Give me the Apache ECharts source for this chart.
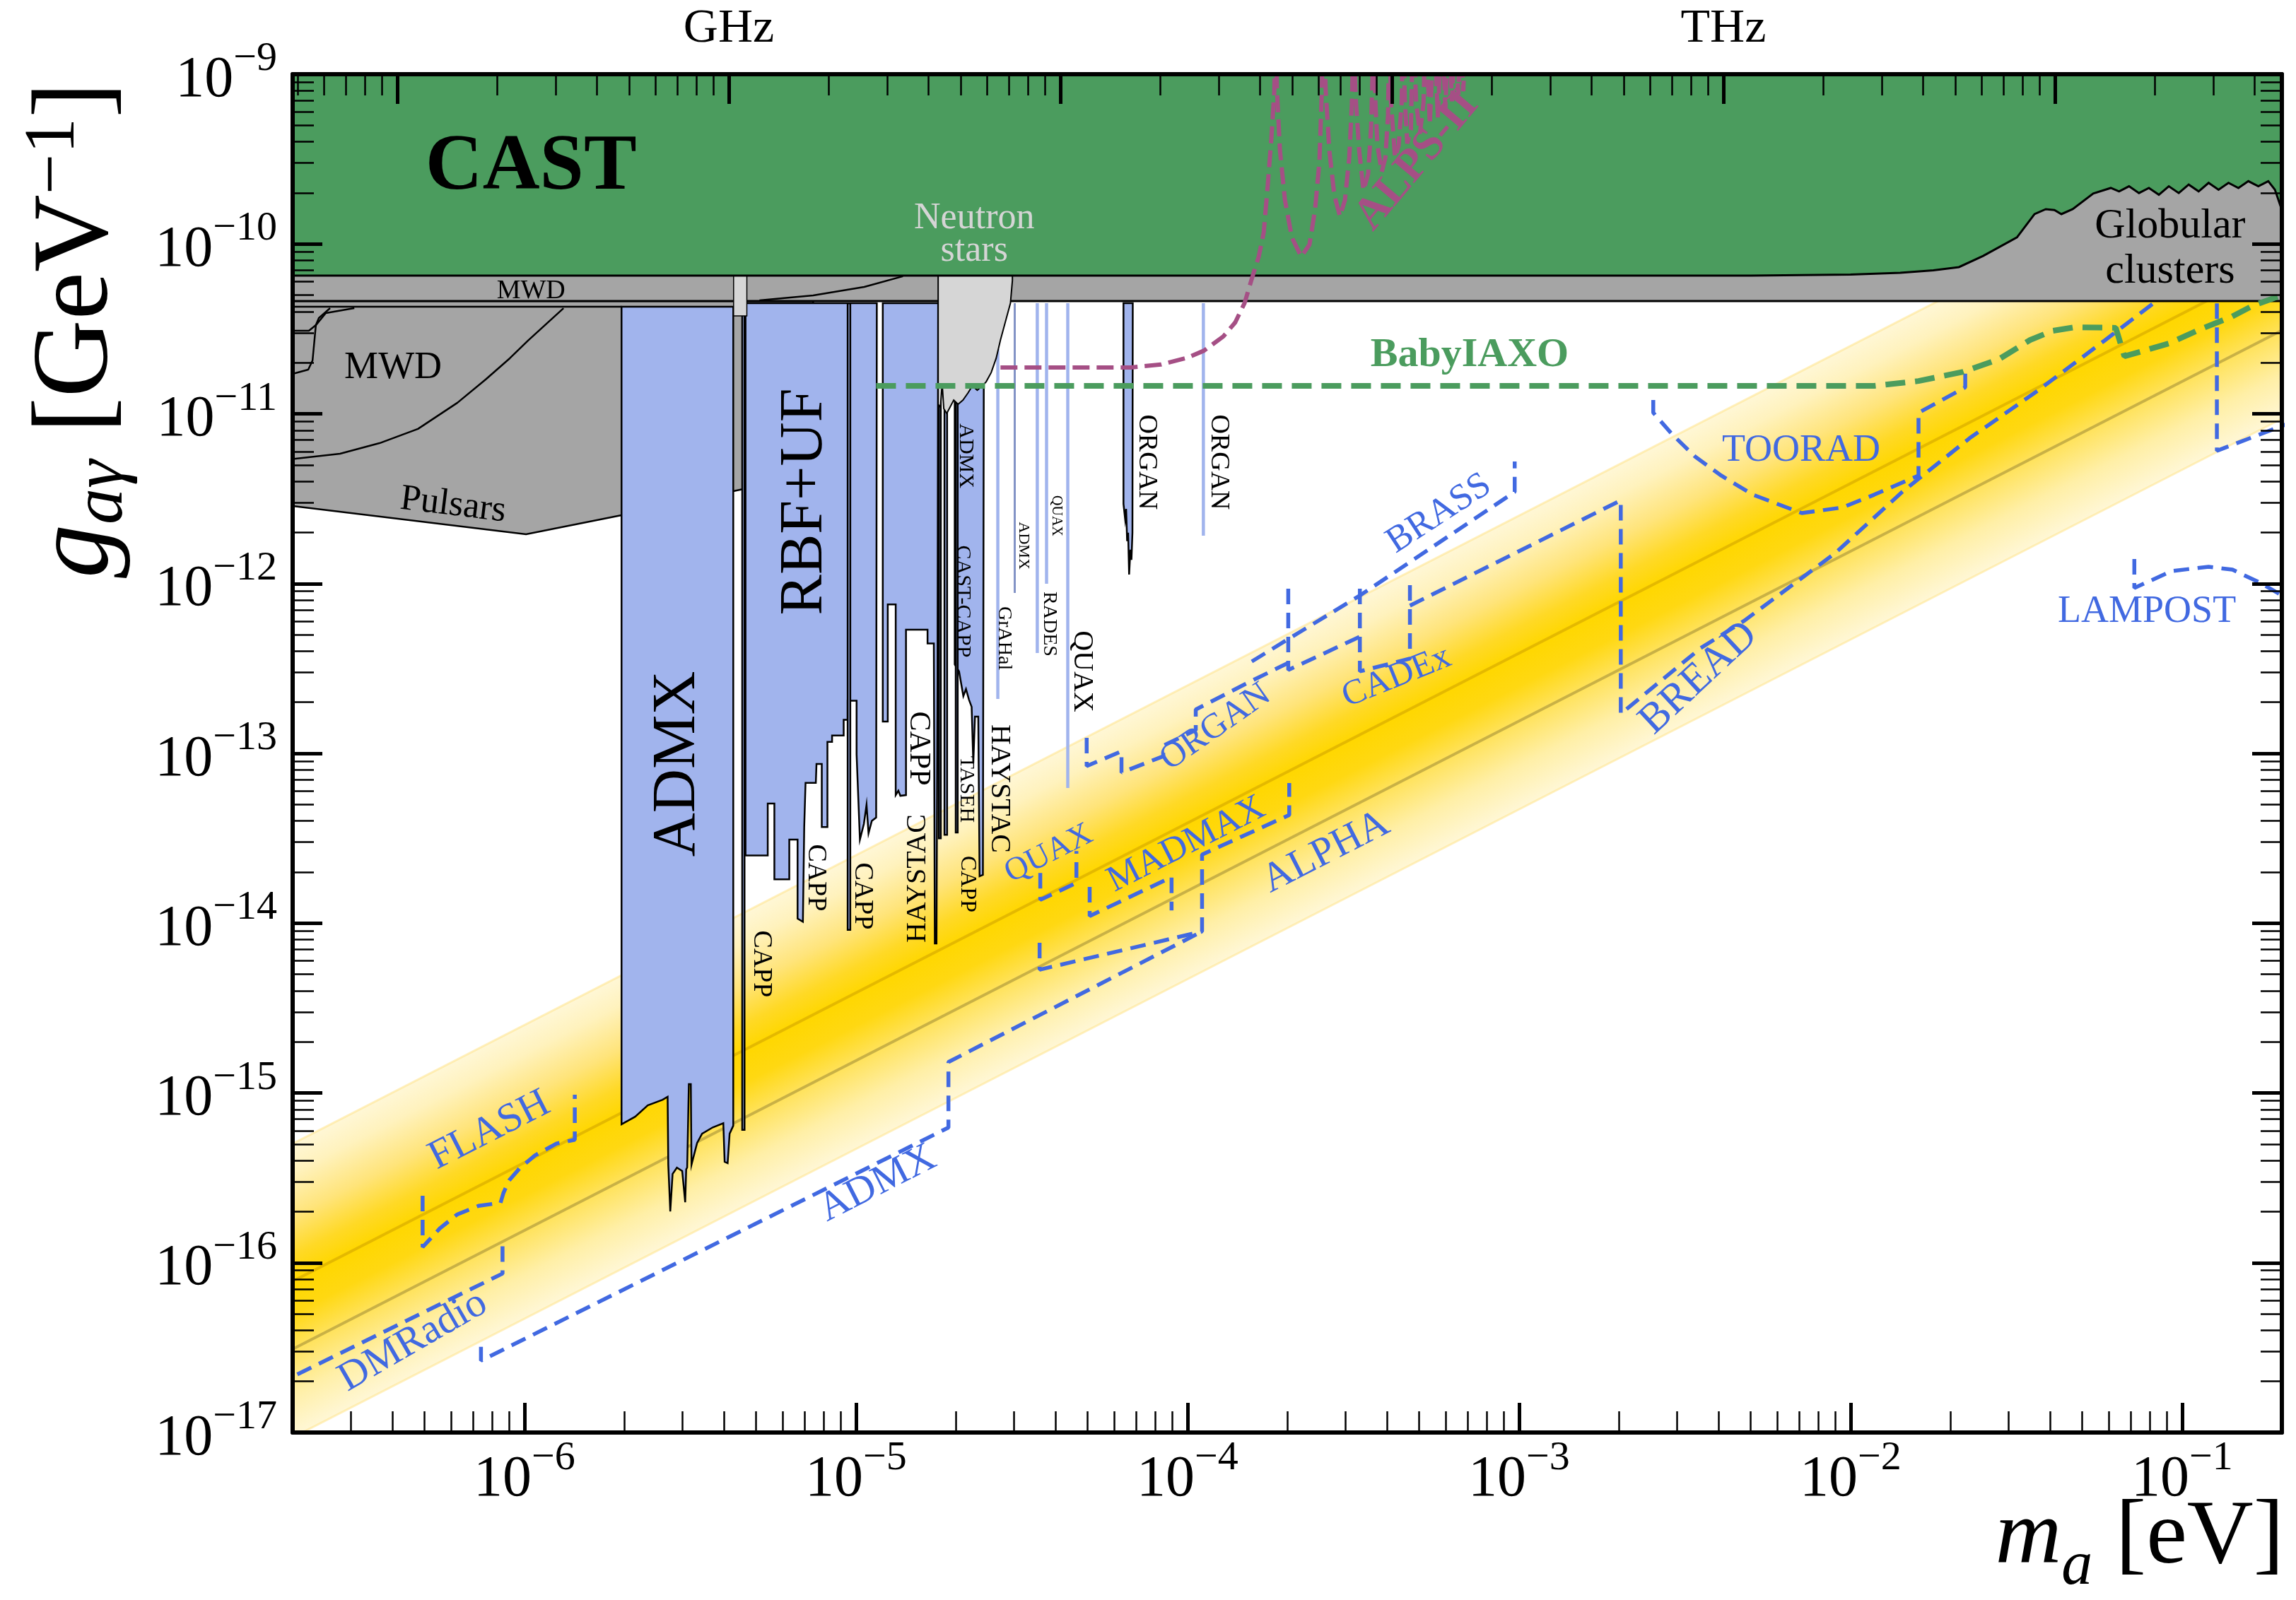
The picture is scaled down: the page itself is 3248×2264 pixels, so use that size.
<!DOCTYPE html>
<html>
<head>
<meta charset="utf-8">
<script src="https://cdn.jsdelivr.net/npm/echarts@6/dist/echarts.min.js"></script>
<style>
  html, body { margin: 0; padding: 0; background: #fff; }
  #chart { width: 3248px; height: 2264px; }
</style>
</head>
<body>
<div id="chart"></div>
<script>
// every value below is log10: m_a in eV, g_ag in GeV^-1
const xRange = [-6.699, -0.699]
const yRange = [-17, -9]
const xTickExps = [-6, -5, -4, -3, -2, -1]
const yTickExps = [-17, -16, -15, -14, -13, -12, -11, -10, -9]
const freqTicks = [{ hz: 1e9, text: 'GHz' }, { hz: 1e12, text: 'THz' }]
const hPlanck = 4.135667e-15 // eV s

// QCD axion band, KSVZ and DFSZ lines
const bandUpper = [[-6.699, -15.299], [-0.699, -9.299]]
const bandLower = [[-6.699, -17.029], [-0.699, -11.029]]
const ksvzLine = [[-6.699, -16.109], [-0.699, -10.109]]
const dfszLine = [[-6.699, -16.509], [-0.699, -10.509]]

// astrophysics / helioscope
const cast = [[-6.699, -10.186], [-2.3, -10.186], [-2.0, -10.18], [-1.85, -10.17], [-1.75, -10.155], [-1.673, -10.136],
  [-1.6, -10.07], [-1.498, -9.961], [-1.445, -9.824], [-1.411, -9.795], [-1.385, -9.8], [-1.364, -9.824], [-1.33, -9.795],
  [-1.268, -9.703], [-1.215, -9.67], [-1.19, -9.69], [-1.16, -9.66], [-1.13, -9.7], [-1.1, -9.67], [-1.07, -9.71],
  [-1.04, -9.66], [-1.01, -9.7], [-0.98, -9.65], [-0.95, -9.69], [-0.92, -9.64], [-0.89, -9.68], [-0.86, -9.64],
  [-0.83, -9.67], [-0.8, -9.63], [-0.77, -9.66], [-0.74, -9.63], [-0.72, -9.68], [-0.699, -9.8], [-0.699, -9], [-6.699, -9]]
const globular = [[-6.699, -10.336], [-0.699, -10.336], [-0.699, -9], [-6.699, -9]]
const pulsarsMwd = [[-6.699, -10.336], [-5.129, -10.336], [-5.129, -11.36], [-5.34, -11.443], [-5.707, -11.597],
  [-5.995, -11.71], [-6.699, -11.543]]
const mwdTop = [[-6.699, -10.369], [-5.707, -10.369]]
const mwdCurve = [[-5.882, -10.378], [-5.989, -10.569], [-6.044, -10.673], [-6.117, -10.798], [-6.202, -10.935],
  [-6.321, -11.089], [-6.437, -11.173], [-6.556, -11.235], [-6.699, -11.266]]
const mwdA = [[-6.513, -10.378], [-6.599, -10.407], [-6.629, -10.478], [-6.65, -10.511], [-6.699, -10.511]]
const mwdB = [[-6.586, -10.378], [-6.62, -10.436], [-6.629, -10.478], [-6.639, -10.686], [-6.652, -10.74], [-6.699, -10.765]]
const mwdUpper = [[-5.291, -10.332], [-5.129, -10.303], [-4.975, -10.253], [-4.858, -10.19]]
const neutronStars = [[-4.752, -10.186], [-4.752, -10.944], [-4.745, -10.96], [-4.74, -10.82], [-4.735, -10.97],
  [-4.726, -10.998], [-4.705, -10.919], [-4.692, -10.944], [-4.677, -10.919], [-4.662, -10.877], [-4.649, -10.836],
  [-4.634, -10.861], [-4.619, -10.836], [-4.607, -10.811], [-4.592, -10.757], [-4.577, -10.673], [-4.564, -10.565],
  [-4.549, -10.457], [-4.534, -10.349], [-4.528, -10.215], [-4.528, -10.186]]
const neutronSmall = [[-5.369, -10.182], [-5.369, -10.424], [-5.329, -10.424], [-5.329, -10.182]]

// haloscopes
const admx = [[-5.707, -10.369], [-5.707, -15.185], [-5.666, -15.14], [-5.628, -15.073], [-5.583, -15.04],
  [-5.568, -15.023], [-5.566, -15.423], [-5.56, -15.698], [-5.553, -15.477], [-5.54, -15.44], [-5.524, -15.46],
  [-5.515, -15.644], [-5.512, -15.45], [-5.509, -15.439], [-5.504, -14.948], [-5.498, -14.948], [-5.496, -15.423],
  [-5.479, -15.294], [-5.464, -15.24], [-5.432, -15.203], [-5.4, -15.178], [-5.396, -15.406], [-5.387, -15.414],
  [-5.381, -15.24], [-5.37, -15.193], [-5.37, -10.369]]
const rbfUf = [[-5.333, -10.349], [-5.333, -13.601], [-5.266, -13.601], [-5.266, -13.296], [-5.246, -13.296],
  [-5.246, -13.742], [-5.201, -13.742], [-5.201, -13.508], [-5.176, -13.508], [-5.176, -13.973], [-5.16, -13.992],
  [-5.156, -13.434], [-5.152, -13.174], [-5.121, -13.174], [-5.119, -13.062], [-5.103, -13.062], [-5.103, -13.434],
  [-5.086, -13.434], [-5.086, -12.932], [-5.072, -12.932], [-5.072, -12.895], [-5.037, -12.895], [-5.037, -12.802],
  [-5.025, -12.802], [-5.025, -12.69], [-4.998, -12.69], [-4.998, -13.006], [-4.988, -13.508], [-4.976, -13.415],
  [-4.968, -13.303], [-4.962, -13.471], [-4.952, -13.397], [-4.939, -13.378], [-4.937, -10.349]]
const cappHaystac = [[-4.919, -10.349], [-4.919, -12.813], [-4.904, -12.813], [-4.904, -12.123], [-4.88, -12.123],
  [-4.88, -13.246], [-4.872, -13.22], [-4.866, -13.25], [-4.849, -13.246], [-4.849, -12.272], [-4.784, -12.272],
  [-4.784, -12.353], [-4.765, -12.353], [-4.762, -14.12], [-4.757, -14.12], [-4.754, -12.596], [-4.752, -10.349]]
const admxCastCapp = [[-4.702, -10.4], [-4.702, -12.476], [-4.689, -12.517], [-4.676, -12.663], [-4.668, -12.621],
  [-4.659, -12.684], [-4.651, -12.726], [-4.646, -13.059], [-4.641, -12.784], [-4.631, -12.784], [-4.627, -13.724],
  [-4.617, -13.716], [-4.614, -10.4]]
const organ = [[-4.193, -10.349], [-4.193, -11.53], [-4.188, -11.62], [-4.185, -11.56], [-4.182, -11.75],
  [-4.179, -11.7], [-4.176, -11.947], [-4.172, -11.8], [-4.169, -11.86], [-4.166, -11.7], [-4.165, -10.349]]
// narrow scans: [m left, m right, g bottom]
const cappLines = [[-5.343, -5.336, -15.218], [-5.025, -5.017, -14.04], [-4.75, -4.744, -13.501],
  [-4.733, -4.725, -13.48], [-4.699, -4.693, -13.466]]
// single-mass results: [m, g top, g bottom]
const thinLines = [[-4.572, -10.619, -12.679], [-4.453, -10.349, -12.409], [-4.425, -10.349, -12.001],
  [-4.361, -10.349, -13.204], [-3.952, -10.349, -11.718]]
const admxThin = [[-4.521, -10.349, -12.055]]

// projections
const alps = [[-4.564, -10.727], [-4.171, -10.727], [-4.08, -10.71], [-3.999, -10.669], [-3.95, -10.628],
  [-3.892, -10.545], [-3.856, -10.462], [-3.828, -10.349], [-3.807, -10.212], [-3.785, -10.074], [-3.77, -9.933],
  [-3.758, -9.658], [-3.747, -9.379], [-3.738, -9.1], [-3.735, -8.7],
  [-3.733, -8.7], [-3.73, -9.1], [-3.721, -9.45], [-3.706, -9.741], [-3.685, -9.962], [-3.657, -10.074],
  [-3.632, -10.004], [-3.615, -9.795], [-3.602, -9.516], [-3.596, -9.17], [-3.589, -8.7],
  [-3.586, -8.7], [-3.583, -9.1], [-3.572, -9.45], [-3.557, -9.713], [-3.54, -9.837], [-3.525, -9.741],
  [-3.512, -9.491], [-3.504, -9.17], [-3.499, -8.7],
  [-3.497, -8.7], [-3.493, -9.129], [-3.482, -9.45], [-3.469, -9.684], [-3.455, -9.587], [-3.446, -9.308], [-3.438, -8.7],
  [-3.436, -8.7], [-3.433, -9.17], [-3.427, -9.42], [-3.414, -9.575], [-3.403, -9.491], [-3.395, -9.241], [-3.391, -8.7],
  [-3.389, -8.7], [-3.386, -9.17], [-3.374, -9.491], [-3.363, -9.42], [-3.354, -9.17], [-3.35, -8.7],
  [-3.349, -8.7], [-3.344, -9.17], [-3.337, -9.408], [-3.326, -9.325], [-3.32, -8.7],
  [-3.318, -8.7], [-3.31, -9.17], [-3.299, -9.35], [-3.288, -9.17], [-3.282, -8.7],
  [-3.28, -8.7], [-3.269, -9.296], [-3.256, -8.7], [-3.254, -8.7], [-3.245, -9.254], [-3.233, -8.7],
  [-3.231, -8.7], [-3.222, -9.2], [-3.212, -8.7], [-3.21, -8.7], [-3.202, -9.16], [-3.193, -8.7],
  [-3.19, -8.7], [-3.183, -9.12], [-3.176, -8.7], [-3.174, -8.7], [-3.168, -9.1], [-3.16, -8.7]]
const babyIaxo = [[-4.939, -10.836], [-1.929, -10.836], [-1.795, -10.807], [-1.66, -10.753], [-1.552, -10.678],
  [-1.458, -10.565], [-1.39, -10.511], [-1.323, -10.49], [-1.2, -10.494], [-1.174, -10.661], [-1.121, -10.632],
  [-1.04, -10.586], [-0.946, -10.503], [-0.85, -10.428], [-0.784, -10.361], [-0.675, -10.286]]
const flash = [[-6.307, -15.606], [-6.307, -15.908], [-6.255, -15.798], [-6.203, -15.716], [-6.138, -15.665],
  [-6.072, -15.647], [-6.063, -15.588], [-6.046, -15.515], [-6.013, -15.441], [-5.968, -15.368], [-5.903, -15.298],
  [-5.848, -15.276], [-5.848, -15.01]]
const dmRadio = [[-6.75, -16.72], [-6.066, -16.064], [-6.066, -15.89]]
const admxFuture = [[-6.131, -16.495], [-6.131, -16.577], [-4.721, -15.204], [-4.721, -14.818], [-3.956, -14.049]]
const quaxFuture = [[-4.444, -13.704], [-4.444, -13.863], [-4.335, -13.763], [-4.335, -13.575]]
const madmax = [[-4.295, -13.787], [-4.295, -13.958], [-4.048, -13.729], [-4.048, -13.925]]
const alpha = [[-4.446, -14.116], [-4.446, -14.274], [-3.956, -14.049], [-3.956, -13.596], [-3.693, -13.363], [-3.693, -13.175]]
const organFuture = [[-4.304, -12.908], [-4.304, -13.075], [-4.199, -12.988], [-4.199, -13.113], [-4.073, -13.017],
  [-4.073, -12.955], [-3.975, -12.863], [-3.975, -12.742], [-3.826, -12.592], [-3.696, -12.467]]
const organLink = [[-3.696, -12.03], [-3.696, -12.509], [-3.48, -12.313]]
const brass = [[-3.806, -12.459], [-3.691, -12.321], [-3.478, -12.068], [-3.013, -11.46], [-3.013, -11.281]]
const cadex = [[-3.48, -12.03], [-3.48, -12.517], [-3.329, -12.442], [-3.329, -11.967]]
const bread = [[-3.329, -12.13], [-2.693, -11.51], [-2.693, -12.767], [-2.452, -12.38], [-2.32, -12.218],
  [-2.185, -12.022], [-2.047, -11.822], [-1.844, -11.46], [-1.641, -11.144], [-1.436, -10.865], [-1.234, -10.569],
  [-1.083, -10.344]]
const toorad = [[-2.595, -10.919], [-2.595, -10.994], [-2.537, -11.123], [-2.469, -11.252], [-2.39, -11.364],
  [-2.294, -11.477], [-2.147, -11.585], [-2.025, -11.552], [-1.929, -11.477], [-1.795, -11.364], [-1.795, -10.994],
  [-1.654, -10.844], [-1.654, -10.753]]
const lampost = [[-1.144, -11.855], [-1.144, -12.026], [-1.031, -11.926], [-0.92, -11.901], [-0.848, -11.918],
  [-0.767, -11.993], [-0.69, -12.08]]
const rightBracket = [[-0.895, -10.35], [-0.895, -11.218], [-0.67, -11.05]]

// labels: text, m, g
const notes = [
  { t: 'CAST', m: -5.98, g: -9.554, s: 112, bold: true },
  { t: 'Neutron\nstars', m: -4.643, g: -9.945, s: 52, c: '#d5d5d5', lh: 46 },
  { t: 'MWD', m: -5.98, g: -10.278, s: 38 },
  { t: 'MWD', m: -6.396, g: -10.732, s: 54 },
  { t: 'Pulsars', m: -6.215, g: -11.539, s: 52, rot: -7 },
  { t: 'Globular\nclusters', m: -1.036, g: -10.028, s: 60, lh: 64 },
  { t: 'ADMX', m: -5.536, g: -13.062, s: 86, rot: 90 },
  { t: 'RBF+UF', m: -5.152, g: -11.518, s: 86, rot: 90 },
  { t: 'CAPP', m: -5.285, g: -14.24, s: 38, rot: -90 },
  { t: 'CAPP', m: -5.121, g: -13.733, s: 38, rot: -90 },
  { t: 'CAPP', m: -4.98, g: -13.841, s: 38, rot: -90 },
  { t: 'CAPP', m: -4.813, g: -12.971, s: 42, rot: -90 },
  { t: 'HAYSTAC', m: -4.813, g: -13.737, s: 40, rot: 90 },
  { t: 'TASEH', m: -4.668, g: -13.212, s: 30, rot: -90 },
  { t: 'CAPP', m: -4.664, g: -13.77, s: 32, rot: -90 },
  { t: 'ADMX', m: -4.67, g: -11.248, s: 30, rot: -90 },
  { t: 'CAST-CAPP', m: -4.677, g: -12.105, s: 30, rot: -90 },
  { t: 'HAYSTAC', m: -4.567, g: -13.208, s: 40, rot: -90 },
  { t: 'GrAHal', m: -4.553, g: -12.322, s: 28, rot: -90 },
  { t: 'ADMX', m: -4.495, g: -11.777, s: 22, rot: -90 },
  { t: 'QUAX', m: -4.395, g: -11.601, s: 20, rot: -90 },
  { t: 'RADES', m: -4.417, g: -12.238, s: 28, rot: -90 },
  { t: 'QUAX', m: -4.318, g: -12.517, s: 40, rot: -90 },
  { t: 'ORGAN', m: -4.124, g: -11.285, s: 38, rot: -90 },
  { t: 'ORGAN', m: -3.906, g: -11.285, s: 38, rot: -90 },
  { t: 'ALPS-II', m: -3.307, g: -9.512, s: 64, rot: 50, c: '#a54f85', bold: true },
  { t: 'BabyIAXO', m: -3.149, g: -10.657, s: 58, bold: true, c: '#4b9c5e' },
  { t: 'FLASH', m: -6.105, g: -15.222, s: 58, rot: 27, c: '#4169e1' },
  { t: 'DMRadio', m: -6.336, g: -16.463, s: 58, rot: 30, c: '#4169e1' },
  { t: 'ADMX', m: -4.934, g: -15.535, s: 58, rot: 27, c: '#4169e1' },
  { t: 'QUAX', m: -4.418, g: -13.591, s: 46, rot: 27, c: '#4169e1' },
  { t: 'MADMAX', m: -4.003, g: -13.537, s: 52, rot: 27, c: '#4169e1' },
  { t: 'ALPHA', m: -3.582, g: -13.583, s: 58, rot: 27, c: '#4169e1' },
  { t: 'ORGAN', m: -3.915, g: -12.846, s: 50, rot: 35, c: '#4169e1' },
  { t: 'BRASS', m: -3.241, g: -11.589, s: 52, rot: 33, c: '#4169e1' },
  { t: 'CADEx', m: -3.369, g: -12.551, s: 50, rot: 22, c: '#4169e1' },
  { t: 'BREAD', m: -2.458, g: -12.558, s: 60, rot: 43, c: '#4169e1' },
  { t: 'TOORAD', m: -2.149, g: -11.219, s: 54, c: '#4169e1' },
  { t: 'LAMPOST', m: -1.106, g: -12.168, s: 54, c: '#4169e1' }
]

const serif = "'Liberation Serif', 'DejaVu Serif', serif"
const green = '#4b9c5e'
const grayFill = '#a5a5a5'
const haloFill = '#a1b4ed'
const futureBlue = '#4169e1'
const futureDash = [22, 12]

function poly (pts, fill, stroke, lw, z) {
  return {
    type: 'custom', z, silent: true, clip: true,
    data: pts,
    renderItem (params, api) {
      if (params.dataIndex !== 0) return null
      return {
        type: 'polygon',
        shape: { points: pts.map(p => api.coord(p)) },
        style: { fill, stroke: stroke || null, lineWidth: lw || 0 }
      }
    }
  }
}

function curve (pts, color, width, dash, z) {
  return {
    type: 'line', data: pts, z, silent: true, symbol: 'none', clip: true,
    lineStyle: { color, width, type: dash || 'solid', cap: 'butt' }
  }
}

function vlines (list, color, width, z) {
  return {
    type: 'custom', z, silent: true, clip: true,
    data: list.map(v => [v[0], v[1]]),
    renderItem (params, api) {
      const v = list[params.dataIndex]
      const a = api.coord([v[0], v[1]])
      const b = api.coord([v[0], v[2]])
      return { type: 'line', shape: { x1: a[0], y1: a[1], x2: b[0], y2: b[1] }, style: { stroke: color, lineWidth: width } }
    }
  }
}

// minor log ticks between decades, shifted for the frequency axis
function minorTicks (lo, hi, shift) {
  const out = []
  for (let e = Math.floor(lo - shift) - 1; e <= Math.ceil(hi - shift); e++) {
    for (let k = 2; k <= 9; k++) {
      const v = e + shift + Math.log10(k)
      if (v > lo && v < hi) out.push(v)
    }
  }
  return out
}

const hShift = Math.log10(hPlanck)
const freqMajor = [7, 8, 9, 10, 11, 12, 13, 14].map(e => e + hShift).filter(v => v > xRange[0] && v < xRange[1])
const freqLabelVals = freqTicks.map(f => Math.log10(hPlanck * f.hz))

const powRich = {
  b: { fontSize: 82, lineHeight: 100, fontFamily: serif, color: '#000', verticalAlign: 'bottom' },
  s: { fontSize: 58, lineHeight: 58, fontFamily: serif, color: '#000', verticalAlign: 'top' }
}
const powLabel = v => '{b|10}{s|\u2212' + Math.abs(Math.round(v)) + '}'

const majorTick = { inside: true, length: 42, lineStyle: { color: '#000', width: 5 } }
const minorTick = { inside: true, length: 30, lineStyle: { color: '#000', width: 2.5 } }
const spine = { onZero: false, lineStyle: { color: '#000', width: 6 } }

function axis (extra) {
  return Object.assign({ type: 'value', z: 20, splitLine: { show: false }, axisLine: { show: false }, axisLabel: { show: false } }, extra)
}

const chart = echarts.init(document.getElementById('chart'), null, { renderer: 'canvas' })

const bandStops = [
  { offset: 0, color: '#fff7d6' }, { offset: 0.1, color: '#fff2bd' }, { offset: 0.25, color: '#ffe47a' },
  { offset: 0.38, color: '#ffd926' }, { offset: 0.47, color: '#ffd700' }, { offset: 0.58, color: '#ffd812' },
  { offset: 0.7, color: '#ffe25a' }, { offset: 0.85, color: '#ffefa6' }, { offset: 1, color: '#fff7d6' }
]

const series = [
  {
    type: 'custom', z: 1, silent: true, clip: true, data: bandUpper,
    renderItem (params, api) {
      if (params.dataIndex !== 0) return null
      const u0 = api.coord(bandUpper[0]), u1 = api.coord(bandUpper[1])
      const l0 = api.coord(bandLower[0]), l1 = api.coord(bandLower[1])
      const dx = u1[0] - u0[0], dy = u1[1] - u0[1], len = Math.hypot(dx, dy)
      const nx = -dy / len, ny = dx / len
      const t = (l0[0] - u0[0]) * nx + (l0[1] - u0[1]) * ny
      const fill = new echarts.graphic.LinearGradient(u0[0], u0[1], u0[0] + nx * t, u0[1] + ny * t, bandStops, true)
      return { type: 'polygon', shape: { points: [u0, u1, l1, l0] }, style: { fill } }
    }
  },
  curve(bandUpper, 'rgba(255,228,140,0.55)', 3, 'solid', 2),
  curve(bandLower, 'rgba(255,228,140,0.55)', 3, 'solid', 2),
  curve(ksvzLine, 'rgba(170,120,0,0.32)', 4, 'solid', 2),
  curve(dfszLine, 'rgba(120,105,40,0.4)', 4, 'solid', 2),
  poly(pulsarsMwd, grayFill, '#000', 2.5, 3),
  poly(admx, haloFill, '#000', 2.5, 4),
  poly(rbfUf, haloFill, '#000', 2.5, 4),
  poly(cappHaystac, haloFill, '#000', 2.5, 4),
  poly(admxCastCapp, haloFill, '#000', 2.5, 4),
  poly(organ, haloFill, '#000', 2.5, 4),
  ...cappLines.map(c => poly([[c[0], -10.35], [c[0], c[2]], [c[1], c[2]], [c[1], -10.35]], haloFill, '#000', 2.5, 4)),
  vlines(thinLines, '#a1b4ed', 4.5, 4),
  vlines(admxThin, '#8393c6', 3, 4),
  poly(globular, grayFill, '#000', 3, 5),
  curve(mwdTop, '#000', 2.5, 'solid', 6),
  curve(mwdCurve, '#000', 2.5, 'solid', 6),
  curve(mwdA, '#000', 2.5, 'solid', 6),
  curve(mwdB, '#000', 2.5, 'solid', 6),
  curve(mwdUpper, '#000', 2.5, 'solid', 6),
  poly(neutronSmall, '#d6d6d6', '#000', 1.5, 7),
  poly(neutronStars, '#d6d6d6', '#000', 2, 7),
  poly(cast, green, '#000', 3, 8),
  curve(flash, futureBlue, 5.5, futureDash, 9),
  curve(dmRadio, futureBlue, 5.5, futureDash, 9),
  curve(admxFuture, futureBlue, 5.5, futureDash, 9),
  curve(quaxFuture, futureBlue, 5.5, futureDash, 9),
  curve(madmax, futureBlue, 5.5, futureDash, 9),
  curve(alpha, futureBlue, 5.5, futureDash, 9),
  curve(organFuture, futureBlue, 5.5, futureDash, 9),
  curve(organLink, futureBlue, 5.5, futureDash, 9),
  curve(brass, futureBlue, 5.5, futureDash, 9),
  curve(cadex, futureBlue, 5.5, futureDash, 9),
  curve(bread, futureBlue, 5.5, futureDash, 9),
  curve(toorad, futureBlue, 5.5, futureDash, 9),
  curve(lampost, futureBlue, 5.5, futureDash, 9),
  curve(rightBracket, futureBlue, 5.5, futureDash, 9),
  curve(babyIaxo, green, 8, [28, 14], 10),
  curve(alps, '#a54f85', 6, [24, 10], 10),
  {
    type: 'custom', z: 12, silent: true,
    data: notes.map(n => [n.m, n.g]),
    renderItem (params, api) {
      const n = notes[params.dataIndex]
      const p = api.coord([n.m, n.g])
      return {
        type: 'text', x: p[0], y: p[1], rotation: (n.rot || 0) * Math.PI / 180,
        style: {
          text: n.t, fill: n.c || '#000',
          font: (n.bold ? 'bold ' : '') + n.s + 'px ' + serif,
          lineHeight: n.lh, align: 'center', verticalAlign: 'middle'
        }
      }
    }
  }
]

chart.setOption({
  animation: false,
  backgroundColor: '#fff',
  grid: { left: 414, top: 105, right: 20, bottom: 237, containLabel: false },
  xAxis: [
    axis({
      min: xRange[0], max: xRange[1], position: 'bottom', axisLine: spine,
      axisTick: Object.assign({ customValues: xTickExps }, majorTick),
      axisLabel: { show: true, customValues: xTickExps, margin: 8, formatter: powLabel, rich: powRich }
    }),
    axis({ min: xRange[0], max: xRange[1], position: 'bottom', axisTick: Object.assign({ customValues: minorTicks(xRange[0], xRange[1], 0) }, minorTick) }),
    axis({
      min: xRange[0], max: xRange[1], position: 'top', axisLine: spine,
      axisTick: Object.assign({ customValues: freqMajor }, majorTick),
      axisLabel: {
        show: true, customValues: freqLabelVals, margin: 30, fontSize: 68, fontFamily: serif, color: '#000',
        formatter: v => {
          let best = freqTicks[0]
          freqTicks.forEach(f => { if (Math.abs(Math.log10(hPlanck * f.hz) - v) < Math.abs(Math.log10(hPlanck * best.hz) - v)) best = f })
          return best.text
        }
      }
    }),
    axis({ min: xRange[0], max: xRange[1], position: 'top', axisTick: Object.assign({ customValues: minorTicks(xRange[0], xRange[1], hShift) }, minorTick) })
  ],
  yAxis: [
    axis({
      min: yRange[0], max: yRange[1], position: 'left', axisLine: spine,
      axisTick: Object.assign({ customValues: yTickExps }, majorTick),
      axisLabel: { show: true, customValues: yTickExps, margin: 22, formatter: powLabel, rich: powRich }
    }),
    axis({ min: yRange[0], max: yRange[1], position: 'left', axisTick: Object.assign({ customValues: minorTicks(yRange[0], yRange[1], 0) }, minorTick) }),
    axis({ min: yRange[0], max: yRange[1], position: 'right', axisLine: spine, axisTick: Object.assign({ customValues: yTickExps }, majorTick) }),
    axis({ min: yRange[0], max: yRange[1], position: 'right', axisTick: Object.assign({ customValues: minorTicks(yRange[0], yRange[1], 0) }, minorTick) })
  ],
  series,
  graphic: [
    {
      type: 'text', x: 3231, y: 2262, z: 30,
      style: {
        text: '{i|m}{sub|a}{n| [eV]}', align: 'right', verticalAlign: 'bottom',
        rich: {
          i: { fontSize: 130, fontFamily: serif, fontStyle: 'italic', lineHeight: 150, verticalAlign: 'top' },
          sub: { fontSize: 88, fontFamily: serif, fontStyle: 'italic', lineHeight: 100, verticalAlign: 'bottom' },
          n: { fontSize: 130, fontFamily: serif, lineHeight: 150, verticalAlign: 'top' }
        }
      }
    },
    {
      type: 'text', x: 196, y: 818, z: 30, rotation: Math.PI / 2,
      style: {
        text: '{i|g}{sub|a\u03b3}{n| [GeV}{sup|\u22121}{n|]}', align: 'left', verticalAlign: 'bottom',
        rich: {
          i: { fontSize: 152, fontFamily: serif, fontStyle: 'italic', lineHeight: 170, verticalAlign: 'middle' },
          sub: { fontSize: 102, fontFamily: serif, fontStyle: 'italic', lineHeight: 108, verticalAlign: 'bottom' },
          sup: { fontSize: 102, fontFamily: serif, lineHeight: 108, verticalAlign: 'top' },
          n: { fontSize: 152, fontFamily: serif, lineHeight: 170, verticalAlign: 'middle' }
        }
      }
    }
  ]
})
</script>
</body>
</html>
